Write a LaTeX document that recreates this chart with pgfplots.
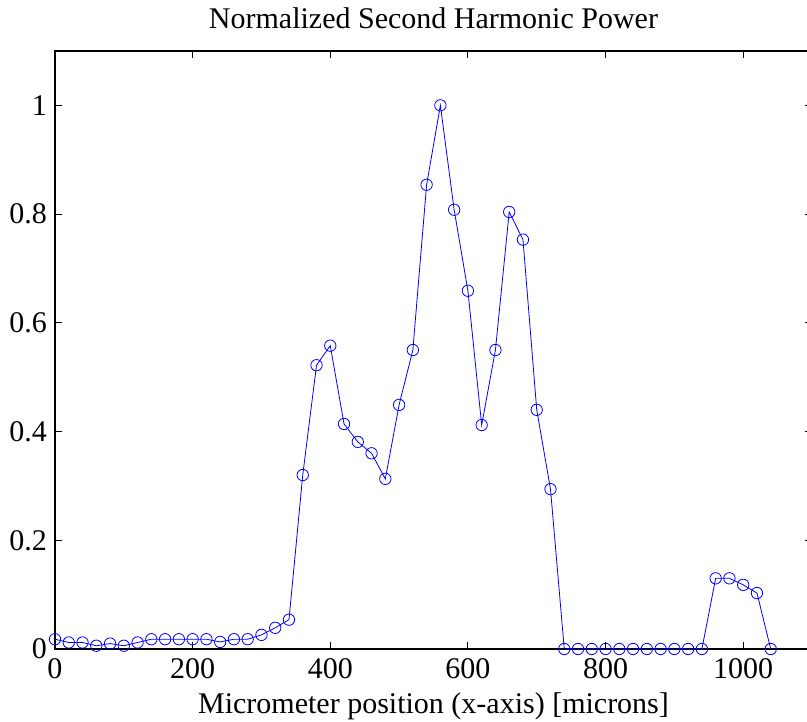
\documentclass[border=0pt]{standalone}
\usepackage{pgfplots}
\pgfplotsset{compat=1.18}
\usepackage{fontspec}
\setmainfont{Liberation Serif}
\definecolor{mblue}{RGB}{0,0,255}
\begin{document}
\fontsize{30}{35}\selectfont
\begin{tikzpicture}
\begin{axis}[
  scale only axis, width=757pt, height=598pt,
  xmin=0, xmax=1100, ymin=0, ymax=1.1,
  xtick={0,200,400,600,800,1000},
  ytick={0,0.2,0.4,0.6,0.8,1},
  yticklabels={0,0.2,0.4,0.6,0.8,1},
  xticklabels={0,200,400,600,800,1000},
  tick align=inside, major tick length=7pt,
  axis line style={line width=1.2pt, black},
  tick style={line width=0.9pt, black},
  /pgf/number format/assume math mode=true,
  tick label style={font=\fontsize{30}{35}\selectfont},
  yticklabel style={xshift=2pt},
  xticklabel style={yshift=1pt},
  label style={font=\fontsize{30}{35}\selectfont},
  xlabel={Micrometer position (x-axis) [microns]},
  xlabel style={yshift=5.5pt},
  title={Normalized Second Harmonic Power},
  title style={font=\fontsize{30}{35}\selectfont, yshift=6pt},
]
\coordinate (BL) at (rel axis cs:0,0);
\coordinate (TR) at (rel axis cs:1,1);
\addplot[mblue, line width=0.8pt, mark=o, mark size=5.7pt, mark options={line width=0.8pt}] coordinates {
(0,0.018) (20,0.012) (40,0.012) (60,0.006) (80,0.010) (100,0.006) (120,0.012)
(140,0.018) (160,0.018) (180,0.018) (200,0.018) (220,0.018) (240,0.013) (260,0.018)
(280,0.018) (300,0.026) (320,0.039) (340,0.054) (360,0.320) (380,0.522) (400,0.558)
(420,0.414) (440,0.381) (460,0.360) (480,0.313) (500,0.449) (520,0.550) (540,0.854)
(560,1.000) (580,0.808) (600,0.659) (620,0.412) (640,0.550) (660,0.804) (680,0.753)
(700,0.440) (720,0.294) (740,0) (760,0) (780,0) (800,0) (820,0) (840,0) (860,0)
(880,0) (900,0) (920,0) (940,0) (960,0.130) (980,0.130) (1000,0.118) (1020,0.103)
(1040,0)
};
\end{axis}
\pgfresetboundingbox
\path[use as bounding box] ([xshift=-55pt,yshift=-72pt]BL) rectangle ([xshift=-5pt,yshift=51pt]TR);
\end{tikzpicture}
\end{document}
